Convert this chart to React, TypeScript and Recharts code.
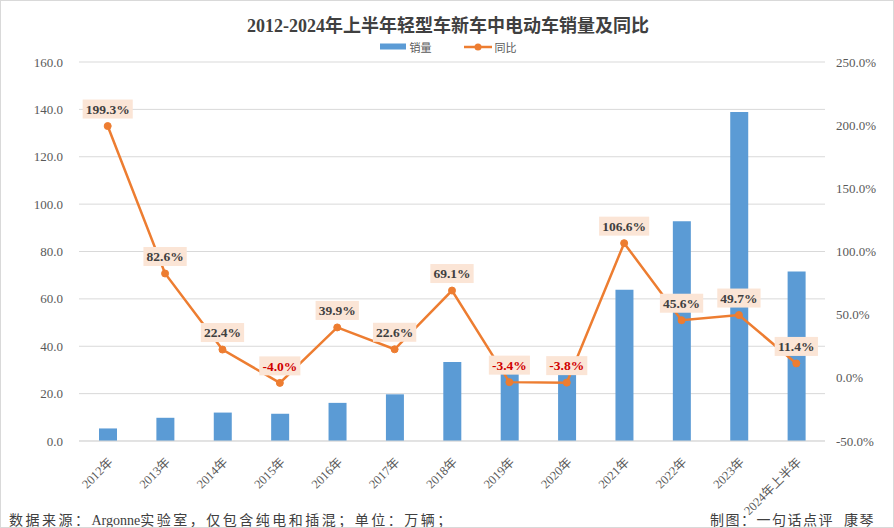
import React from 'react';
import { ComposedChart, Bar, Line, XAxis, YAxis, CartesianGrid } from 'recharts';

const years = ['2012年', '2013年', '2014年', '2015年', '2016年', '2017年', '2018年', '2019年', '2020年', '2021年', '2022年', '2023年', '2024年上半年'];
const sales = [5.3, 9.8, 12.0, 11.5, 16.1, 19.7, 33.3, 32.1, 30.9, 63.8, 92.8, 138.9, 71.6];
const yoy = [199.3, 82.6, 22.4, -4.0, 39.9, 22.6, 69.1, -3.4, -3.8, 106.6, 45.6, 49.7, 11.4];
const leftTicks = [0, 20, 40, 60, 80, 100, 120, 140, 160];
const rightTicks = [-50, 0, 50, 100, 150, 200, 250];

const data = years.map((name, i) => ({ name, 销量: sales[i], 同比: yoy[i] }));

const BLUE = '#5B9BD5';
const ORANGE = '#ED7D31';
const SERIF = '"Liberation Serif", "Times New Roman", "Noto Sans CJK SC", serif';

const charW = (c: string) => (c === '%' ? 13.5 : c === '.' ? 3.4 : c === '-' ? 4.6 : 6.8);

const PctLabel = (props: any) => {
    const { x, y, value } = props;
    if (x == null || y == null) return null;
    const text = Number(value).toFixed(1) + '%';
    const w = text.split('').reduce((s, c) => s + charW(c), 0) + 6;
    const h = 19;
    const cy = y - 17;
    return (
        <g>
            <rect x={x - w / 2} y={cy - h / 2} width={w} height={h} fill="#FBE5D6" />
            <text x={x} y={cy} dy={4.8} textAnchor="middle" fontFamily={SERIF} fontSize={13.5} fontWeight="bold"
                fill={value < 0 ? '#D00000' : '#404040'}>{text}</text>
        </g>
    );
};

const XTick = (props: any) => {
    const { x, y, payload } = props;
    return (
        <g transform={`translate(${x + 3},${y + 11})`}>
            <text textAnchor="end" transform="rotate(-45)" dy={4} fontFamily={SERIF} fontSize={12.5} fill="#595959">
                {payload.value}
            </text>
        </g>
    );
};

export default function App() {
    return (
        <div style={{ position: 'absolute', left: 0, top: 0, width: 894, height: 528, background: '#fff', border: '1px solid #D9D9D9', boxSizing: 'border-box', overflow: 'hidden' }}>
            <div style={{ position: 'absolute', top: 10, left: 0, width: 894, textAlign: 'center', fontFamily: SERIF, fontSize: 18, fontWeight: 'bold', color: '#404040' }}>
                2012-2024年上半年轻型车新车中电动车销量及同比
            </div>
            <div style={{ position: 'absolute', left: -1, top: -1 }}>
                <ComposedChart width={894} height={528} data={data} margin={{ top: 62, right: 0, bottom: 17, left: 0 }}>
                    <CartesianGrid vertical={false} stroke="#D9D9D9" yAxisId="left" />
                    <XAxis dataKey="name" height={70} interval={0} tickLine={false} stroke="#D9D9D9" tick={<XTick />} />
                    <YAxis yAxisId="left" width={79} domain={[0, 160]} ticks={leftTicks} axisLine={false} tickLine={false}
                        tickSize={0} tickMargin={16} tickFormatter={(v: number) => v.toFixed(1)}
                        tick={{ fontFamily: SERIF, fontSize: 13, fill: '#595959' }} />
                    <YAxis yAxisId="right" orientation="right" width={69} domain={[-50, 250]} ticks={rightTicks} axisLine={false}
                        tickLine={false} tickSize={0} tickMargin={11} tickFormatter={(v: number) => v.toFixed(1) + '%'}
                        tick={{ fontFamily: SERIF, fontSize: 13, fill: '#595959' }} />
                    <Bar yAxisId="left" dataKey="销量" fill={BLUE} barSize={18} isAnimationActive={false} />
                    <Line yAxisId="right" dataKey="同比" stroke={ORANGE} strokeWidth={2.5} type="linear"
                        dot={{ r: 3.5, fill: ORANGE, stroke: ORANGE, strokeWidth: 1 }} activeDot={false}
                        label={<PctLabel />} isAnimationActive={false} />
                </ComposedChart>
            </div>
            <div style={{ position: 'absolute', top: 38, left: 0, width: 894, display: 'flex', justifyContent: 'center', alignItems: 'center', fontFamily: SERIF, fontSize: 11, color: '#595959' }}>
                <svg width={27} height={8} style={{ marginRight: 3 }}><rect x={0} y={0.5} width={26} height={6} fill={BLUE} /></svg>
                <span style={{ marginRight: 32 }}>销量</span>
                <svg width={28} height={10} style={{ marginRight: 3 }}>
                    <line x1={0} y1={5} x2={28} y2={5} stroke={ORANGE} strokeWidth={2.5} />
                    <circle cx={14} cy={5} r={3.5} fill={ORANGE} />
                </svg>
                <span>同比</span>
            </div>
            <div style={{ position: 'absolute', left: 8, top: 508, fontFamily: SERIF, fontSize: 14, letterSpacing: 2.5, color: '#404040', whiteSpace: 'pre' }}>
                数据来源：<span style={{ letterSpacing: 0 }}>Argonne</span>实验室，仅包含纯电和插混；单位：万辆；
            </div>
            <div style={{ position: 'absolute', right: 18, top: 508, fontFamily: SERIF, fontSize: 14, letterSpacing: 1.5, color: '#404040', whiteSpace: 'pre' }}>
                制图：一句话点评  康琴
            </div>
        </div>
    );
}
